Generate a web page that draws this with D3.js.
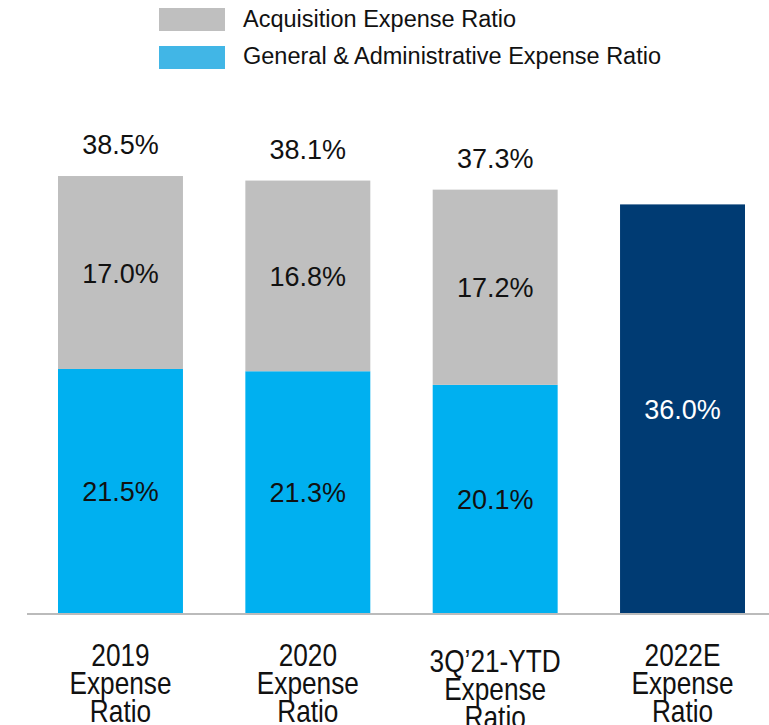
<!DOCTYPE html>
<html lang="en">
<head>
    <meta charset="UTF-8">
    <title>Expense Ratio</title>
    <script src="https://d3js.org/d3.v7.min.js"></script>
    <style>
        body {
            margin: 0;
            background: #fff;
            font-family: "Liberation Sans", Arial, sans-serif;
        }
        svg { display: block; }
    </style>
</head>
<body>
    <svg width="769" height="725"></svg>

    <script>
        // data
        const categories = ["2019", "2020", "3Q'21-YTD", "2022E"];
        const catLines = [
            ["2019", "Expense", "Ratio"],
            ["2020", "Expense", "Ratio"],
            ["3Q\u201921-YTD", "Expense", "Ratio"],
            ["2022E", "Expense", "Ratio"]
        ];
        const gaRatio = [21.5, 21.3, 20.1, null];
        const acqRatio = [17.0, 16.8, 17.2, null];
        const totals = [38.5, 38.1, 37.3, 36.0];
        const seriesNames = ["Acquisition Expense Ratio", "General & Administrative Expense Ratio"];

        const svg = d3.select("svg");

        const x = d3.scaleBand()
            .domain(categories)
            .range([58, 745])
            .paddingInner(0.333)
            .paddingOuter(0);

        const y = d3.scaleLinear()
            .domain([0, 40])
            .range([613, 159]);

        const grey = "#bfbfbf", blue = "#00b0f0", navy = "#003b73";

        // legend
        const legend = svg.append("g");
        [grey, "#41b6e6"].forEach((c, i) => {
            legend.append("rect")
                .attr("x", 159).attr("y", 8 + i * 38)
                .attr("width", 66).attr("height", 23)
                .attr("fill", c);
            legend.append("text")
                .attr("x", 243).attr("y", 27 + i * 37)
                .attr("font-size", 23.5)
                .attr("fill", "#111")
                .text(seriesNames[i]);
        });

        // bars
        const bars = svg.append("g");
        categories.forEach((c, i) => {
            const x0 = x(c), w = x.bandwidth(), cx = x0 + w / 2;
            if (gaRatio[i] != null) {
                const ga = gaRatio[i], acq = acqRatio[i];
                bars.append("rect")
                    .attr("x", x0).attr("width", w)
                    .attr("y", y(ga)).attr("height", y(0) - y(ga))
                    .attr("fill", blue);
                bars.append("rect")
                    .attr("x", x0).attr("width", w)
                    .attr("y", y(ga + acq)).attr("height", y(ga) - y(ga + acq))
                    .attr("fill", grey);
                bars.append("text")
                    .attr("x", cx).attr("y", (y(0) + y(ga)) / 2 + 10)
                    .attr("text-anchor", "middle").attr("font-size", 27)
                    .attr("fill", "#111")
                    .text(ga.toFixed(1) + "%");
                bars.append("text")
                    .attr("x", cx).attr("y", (y(ga) + y(ga + acq)) / 2 + 10)
                    .attr("text-anchor", "middle").attr("font-size", 27)
                    .attr("fill", "#111")
                    .text(acq.toFixed(1) + "%");
                bars.append("text")
                    .attr("x", cx).attr("y", y(totals[i]) - 22)
                    .attr("text-anchor", "middle").attr("font-size", 27)
                    .attr("fill", "#111")
                    .text(totals[i].toFixed(1) + "%");
            } else {
                bars.append("rect")
                    .attr("x", x0).attr("width", w)
                    .attr("y", y(totals[i])).attr("height", y(0) - y(totals[i]))
                    .attr("fill", navy);
                bars.append("text")
                    .attr("x", cx).attr("y", (y(0) + y(totals[i])) / 2 + 10)
                    .attr("text-anchor", "middle").attr("font-size", 27)
                    .attr("fill", "#fff")
                    .text(totals[i].toFixed(1) + "%");
            }
        });

        // baseline
        svg.append("line")
            .attr("x1", 27).attr("x2", 769)
            .attr("y1", y(0) + 1).attr("y2", y(0) + 1)
            .attr("stroke", "#bbb").attr("stroke-width", 2);

        // category labels (condensed like the original font)
        categories.forEach((c, i) => {
            const cx = x(c) + x.bandwidth() / 2;
            const g = svg.append("g")
                .attr("transform", `translate(${cx},0) scale(0.82,1)`);
            const t = g.append("text")
                .attr("text-anchor", "middle")
                .attr("font-size", 32)
                .attr("fill", "#111");
            const base = i === 2 ? 672 : 666;
            catLines[i].forEach((line, j) => {
                t.append("tspan")
                    .attr("x", 0)
                    .attr("y", base + j * 28)
                    .text(line);
            });
        });
    </script>
</body>
</html>
